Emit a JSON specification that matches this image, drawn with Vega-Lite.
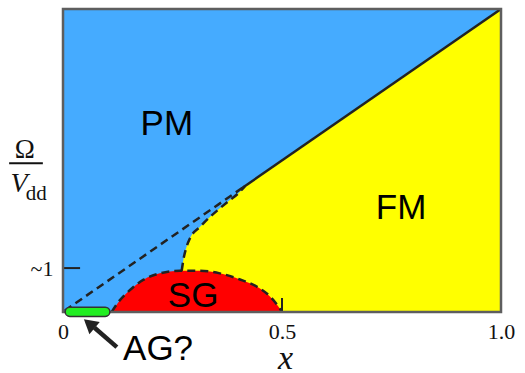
{
  "$schema": "https://vega.github.io/schema/vega-lite/v6.json",
  "width": 438,
  "height": 303,
  "autosize": "none",
  "padding": {"left": 63, "top": 9, "right": 24, "bottom": 61},
  "config": {"view": {"stroke": null}},
  "datasets": {
    "frame": [{"x": 0, "x2": 1, "y": 0, "y2": 6.9}],
    "dome": [
      {"x": 0.111, "y": 0}, {"x": 0.130, "y": 0.27}, {"x": 0.153, "y": 0.50},
      {"x": 0.183, "y": 0.73}, {"x": 0.221, "y": 0.88}, {"x": 0.267, "y": 0.94},
      {"x": 0.313, "y": 0.94}, {"x": 0.358, "y": 0.88}, {"x": 0.404, "y": 0.74},
      {"x": 0.442, "y": 0.58}, {"x": 0.473, "y": 0.35}, {"x": 0.492, "y": 0.12},
      {"x": 0.5, "y": 0}
    ],
    "curve": [
      {"x": 0.271, "y": 0.94}, {"x": 0.276, "y": 1.25}, {"x": 0.282, "y": 1.48},
      {"x": 0.290, "y": 1.68}, {"x": 0.313, "y": 1.94}, {"x": 0.336, "y": 2.17},
      {"x": 0.358, "y": 2.36}, {"x": 0.381, "y": 2.55}, {"x": 0.400, "y": 2.70},
      {"x": 0.415, "y": 2.86}
    ],
    "diag": [{"x": 0.408, "y": 2.815}, {"x": 1, "y": 6.9}],
    "diagDash": [{"x": 0.004, "y": 0.03}, {"x": 0.41, "y": 2.83}],
    "diagSolid": [{"x": 0.41, "y": 2.83}, {"x": 1, "y": 6.9}],
    "ag": [{"x": 0.005, "x2": 0.107, "y": -0.1, "y2": 0.11}],
    "arrow": [{"x": 0.123, "y": -0.80, "x2": 0.072, "y2": -0.36}],
    "head": [{"x": 0.064, "y": -0.30}],
    "labels": [
      {"x": 0.237, "y": 4.03, "t": "PM"},
      {"x": 0.772, "y": 2.12, "t": "FM"},
      {"x": 0.297, "y": 0.12, "t": "SG"},
      {"x": 0.217, "y": -1.09, "t": "AG?"}
    ],
    "omega": [{"x": -0.087, "y": 3.51, "t": "Ω"}],
    "fracline": [{"x": -0.123, "x2": -0.046, "y": 3.39}],
    "vlab": [{"x": -0.120, "y": 2.73, "t": "V"}],
    "dd": [{"x": -0.085, "y": 2.55, "t": "dd"}],
    "tick1": [{"x": 0, "x2": 0.039, "y": 1}],
    "tick5": [{"x": 0.5, "y": 0, "y2": 0.32}]
  },
  "encoding": {
    "x": {"field": "x", "type": "quantitative"},
    "y": {"field": "y", "type": "quantitative"}
  },
  "layer": [
    {
      "data": {"name": "frame"},
      "mark": {"type": "rect", "fill": "#45abff"},
      "encoding": {
        "x": {"field": "x", "type": "quantitative",
          "scale": {"domain": [0, 1], "nice": false, "zero": false},
          "axis": {"values": [0, 0.5, 1], "labelExpr": "datum.value == 0 ? '0' : format(datum.value, '.1f')",
            "ticks": false, "domain": false, "grid": false, "labelFont": "Liberation Serif, serif",
            "labelFontSize": 22, "labelColor": "#111", "labelPadding": 9, "labelFlush": false,
            "title": "x", "titleFont": "Liberation Serif, serif", "titleFontStyle": "italic",
            "titleFontWeight": "normal", "titleFontSize": 34, "titleColor": "#111",
            "titleBaseline": "alphabetic", "titleY": 56, "titleX": 222}},
        "x2": {"field": "x2"},
        "y": {"field": "y", "type": "quantitative",
          "scale": {"domain": [0, 6.9], "nice": false, "zero": false},
          "axis": {"values": [1], "labelExpr": "'~1'", "ticks": false, "domain": false, "grid": false,
            "labelFont": "Liberation Serif, serif", "labelFontSize": 22, "labelColor": "#111",
            "labelPadding": 10, "title": null}},
        "y2": {"field": "y2"}
      }
    },
    {
      "data": {"name": "curve"},
      "mark": {"type": "area", "color": "#ffff00", "interpolate": "monotone"},
      "encoding": {"y2": {"datum": 0}}
    },
    {
      "data": {"name": "diag"},
      "mark": {"type": "area", "color": "#ffff00"},
      "encoding": {"y2": {"datum": 0}}
    },
    {
      "data": {"name": "dome"},
      "mark": {"type": "area", "color": "#ff0000", "interpolate": "monotone"},
      "encoding": {"y2": {"datum": 0}}
    },
    {
      "data": {"name": "dome"},
      "mark": {"type": "line", "color": "#222", "strokeWidth": 2.5, "strokeDash": [8, 5], "interpolate": "monotone"},
      "encoding": {}
    },
    {
      "data": {"name": "curve"},
      "mark": {"type": "line", "color": "#222", "strokeWidth": 2.5, "strokeDash": [8, 5], "interpolate": "monotone"},
      "encoding": {}
    },
    {
      "data": {"name": "diagDash"},
      "mark": {"type": "line", "color": "#222", "strokeWidth": 2.5, "strokeDash": [8, 5]},
      "encoding": {}
    },
    {
      "data": {"name": "diagSolid"},
      "mark": {"type": "line", "color": "#222", "strokeWidth": 2.5},
      "encoding": {}
    },
    {
      "data": {"name": "tick5"},
      "mark": {"type": "rule", "color": "#222", "strokeWidth": 2},
      "encoding": {"y2": {"field": "y2"}}
    },
    {
      "data": {"name": "tick1"},
      "mark": {"type": "rule", "color": "#222", "strokeWidth": 2},
      "encoding": {"x2": {"field": "x2"}}
    },
    {
      "data": {"name": "frame"},
      "mark": {"type": "rect", "fill": null, "stroke": "#5e5e5e", "strokeWidth": 2.5},
      "encoding": {"x2": {"field": "x2"}, "y2": {"field": "y2"}}
    },
    {
      "data": {"name": "ag"},
      "mark": {"type": "rect", "fill": "#22ee22", "stroke": "#333", "strokeWidth": 1.5, "cornerRadius": 5},
      "encoding": {"x2": {"field": "x2"}, "y2": {"field": "y2"}}
    },
    {
      "data": {"name": "arrow"},
      "mark": {"type": "rule", "color": "#222", "strokeWidth": 4.5},
      "encoding": {"x2": {"field": "x2"}, "y2": {"field": "y2"}}
    },
    {
      "data": {"name": "head"},
      "mark": {"type": "point", "shape": "triangle", "filled": true, "color": "#222", "opacity": 1, "size": 260, "angle": 310},
      "encoding": {}
    },
    {
      "data": {"name": "labels"},
      "mark": {"type": "text", "font": "Liberation Sans", "fontSize": 35, "color": "#000", "baseline": "alphabetic", "align": "center"},
      "encoding": {"text": {"field": "t"}}
    },
    {
      "data": {"name": "omega"},
      "mark": {"type": "text", "font": "Liberation Serif, serif", "fontSize": 27, "color": "#111", "baseline": "alphabetic", "align": "center"},
      "encoding": {"text": {"field": "t"}}
    },
    {
      "data": {"name": "fracline"},
      "mark": {"type": "rule", "color": "#111", "strokeWidth": 2},
      "encoding": {"x2": {"field": "x2"}}
    },
    {
      "data": {"name": "vlab"},
      "mark": {"type": "text", "font": "Liberation Serif, serif", "fontStyle": "italic", "fontSize": 28, "color": "#111", "baseline": "alphabetic", "align": "left"},
      "encoding": {"text": {"field": "t"}}
    },
    {
      "data": {"name": "dd"},
      "mark": {"type": "text", "font": "Liberation Serif, serif", "fontSize": 21, "color": "#111", "baseline": "alphabetic", "align": "left"},
      "encoding": {"text": {"field": "t"}}
    }
  ]
}
